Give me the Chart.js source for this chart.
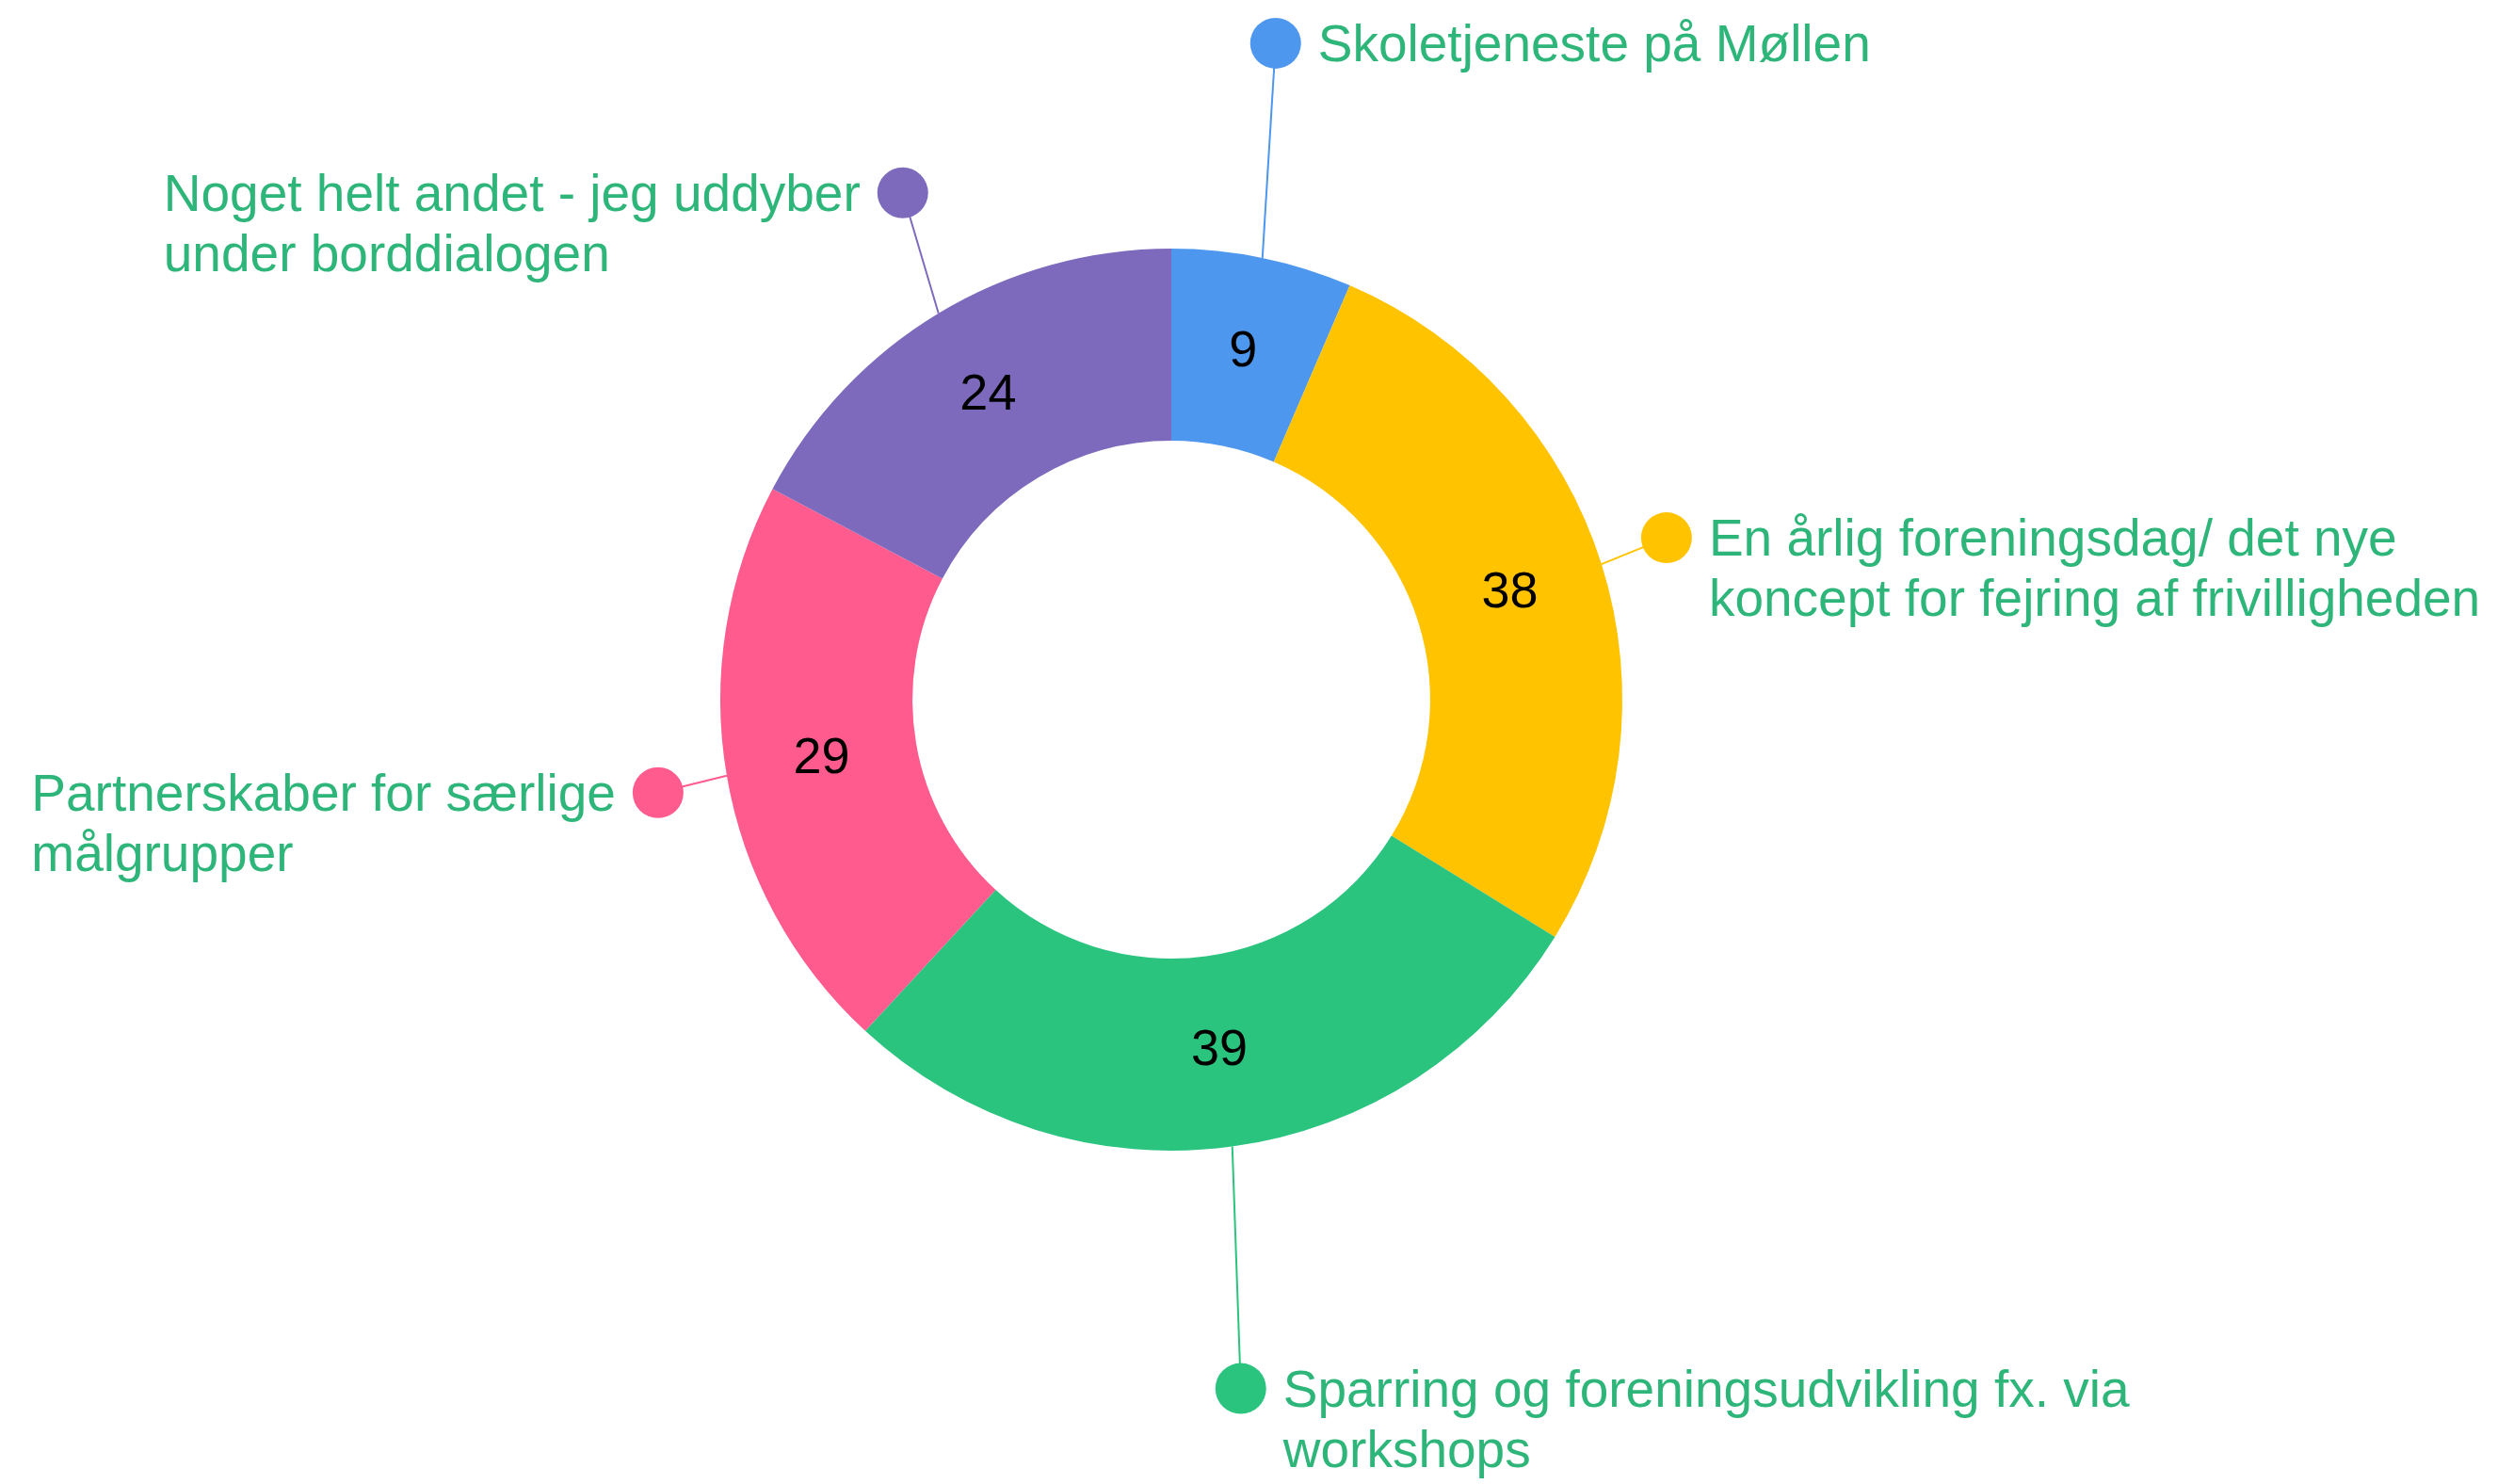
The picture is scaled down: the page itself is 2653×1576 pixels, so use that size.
<!DOCTYPE html>
<html>
<head>
<meta charset="utf-8">
<title>Donut</title>
<script src="https://cdn.jsdelivr.net/npm/chart.js@4/dist/chart.umd.min.js"></script>
<style>
  html, body { margin: 0; padding: 0; background: #fff; }
  canvas { display: block; }
</style>
</head>
<body>
<canvas id="donutChart" width="2653" height="1576"></canvas>
<script>
// Data
const categories = [
    ['Skoletjeneste på Møllen'],
    ['En årlig foreningsdag/ det nye', 'koncept for fejring af frivilligheden'],
    ['Sparring og foreningsudvikling fx. via', 'workshops'],
    ['Partnerskaber for særlige', 'målgrupper'],
    ['Noget helt andet - jeg uddyber', 'under borddialogen']
];
const votes = [9, 38, 39, 29, 24];
const sliceColors = ['#4d97ee', '#ffc300', '#2bc47f', '#ff5b8f', '#7d6abd'];

// where each label dot sits, relative to the outer edge of its slice
const leaderOffsets = [
    { dx: 14, dy: -228 },
    { dx: 69, dy: -28 },
    { dx: 9, dy: 257 },
    { dx: -73, dy: 18 },
    { dx: -38, dy: -128 }
];

const labelColor = '#2eb67a';
const labelFont = '55px "Liberation Sans", Arial, sans-serif';
const valueFont = '54px "Liberation Sans", Arial, sans-serif';

const calloutPlugin = {
    id: 'callouts',
    afterDatasetsDraw: function(chart) {
        const ctx = chart.ctx;
        const meta = chart.getDatasetMeta(0);
        ctx.save();
        meta.data.forEach(function(arc, i) {
            const p = arc.getProps(['x', 'y', 'startAngle', 'endAngle', 'outerRadius'], true);
            const mid = (p.startAngle + p.endAngle) / 2;
            const ex = p.x + Math.cos(mid) * p.outerRadius;
            const ey = p.y + Math.sin(mid) * p.outerRadius;
            const dotX = ex + leaderOffsets[i].dx;
            const dotY = ey + leaderOffsets[i].dy;

            // value inside the ring
            const c = arc.tooltipPosition(true);
            ctx.fillStyle = '#000';
            ctx.font = valueFont;
            ctx.textAlign = 'center';
            ctx.textBaseline = 'middle';
            ctx.fillText(String(votes[i]), c.x, c.y);

            // leader line + dot
            ctx.strokeStyle = sliceColors[i];
            ctx.lineWidth = 2;
            ctx.beginPath();
            ctx.moveTo(ex, ey);
            ctx.lineTo(dotX, dotY);
            ctx.stroke();
            ctx.fillStyle = sliceColors[i];
            ctx.beginPath();
            ctx.arc(dotX, dotY, 27, 0, Math.PI * 2);
            ctx.fill();

            // label text
            const lines = categories[i];
            ctx.font = labelFont;
            ctx.fillStyle = labelColor;
            ctx.textAlign = 'left';
            const onLeft = dotX < p.x;
            let startX = dotX + 45;
            if (onLeft) {
                const w = Math.max.apply(null, lines.map(function(l) { return ctx.measureText(l).width; }));
                startX = dotX - 45 - w;
            }
            lines.forEach(function(line, j) {
                ctx.fillText(line, startX, dotY + 4 + j * 64);
            });
        });
        ctx.restore();
    }
};

const canvas = document.getElementById('donutChart');
const chart = new Chart(canvas.getContext('2d'), {
    type: 'doughnut',
    data: {
        labels: categories,
        datasets: [{
            data: votes,
            backgroundColor: sliceColors,
            borderWidth: 0
        }]
    },
    options: {
        responsive: false,
        animation: false,
        cutout: '57.4%',
        layout: {
            padding: { left: 765, right: 930, top: 264, bottom: 354 }
        },
        plugins: {
            legend: { display: false },
            tooltip: { enabled: false }
        }
    },
    plugins: [calloutPlugin]
});
</script>
</body>
</html>
